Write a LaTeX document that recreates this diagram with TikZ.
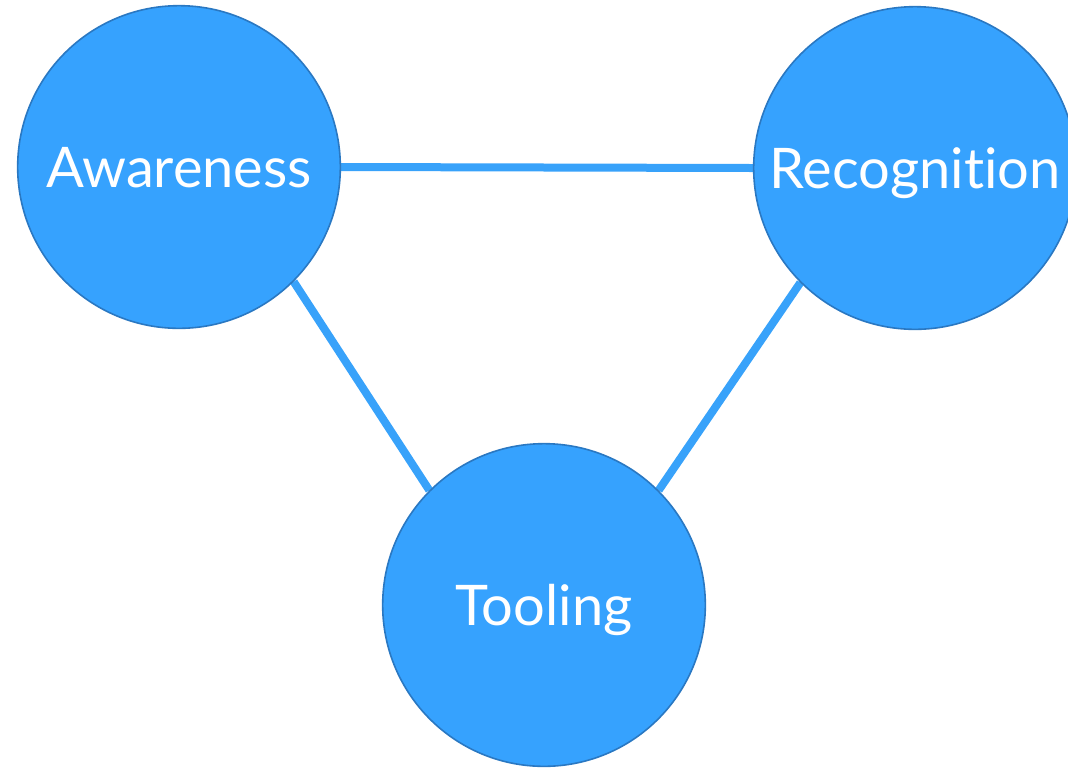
\documentclass[tikz,border=0pt]{standalone}
\usepackage{fontspec}
\setmainfont{Lato}[Ligatures=NoCommon]
\usepackage{xcolor}
\usepackage{tikz}
\usetikzlibrary{backgrounds}

\definecolor{circlefill}{HTML}{36A2FE}
\definecolor{circleedge}{HTML}{2A78C2}
\definecolor{linkblue}{HTML}{38A2FA}

\begin{document}
\begin{tikzpicture}[
    x=0.75pt, y=-0.75pt,
    topic/.style={circle, draw=circleedge, fill=circlefill, line width=1.2pt, minimum size=242pt, inner sep=0pt, text=white, text depth=0pt, font=\fontsize{42}{50}\selectfont},
    link/.style={draw=linkblue, line width=6pt}
]
    \useasboundingbox (0,0) rectangle (1068,769);
    \node[topic] (aw) at (179,167) {Awareness};
    \node[topic] (rc) at (915,168) {Recognition};
    \node[topic] (tl) at (544,605) {Tooling};

    \begin{pgfonlayer}{background}
    \draw[link] (aw.east) -- (rc.west);
    \draw[link] (aw.-45) -- (tl.135);
    \draw[link] (rc.-135) -- (tl.45);
    \end{pgfonlayer}
\end{tikzpicture}
\end{document}
